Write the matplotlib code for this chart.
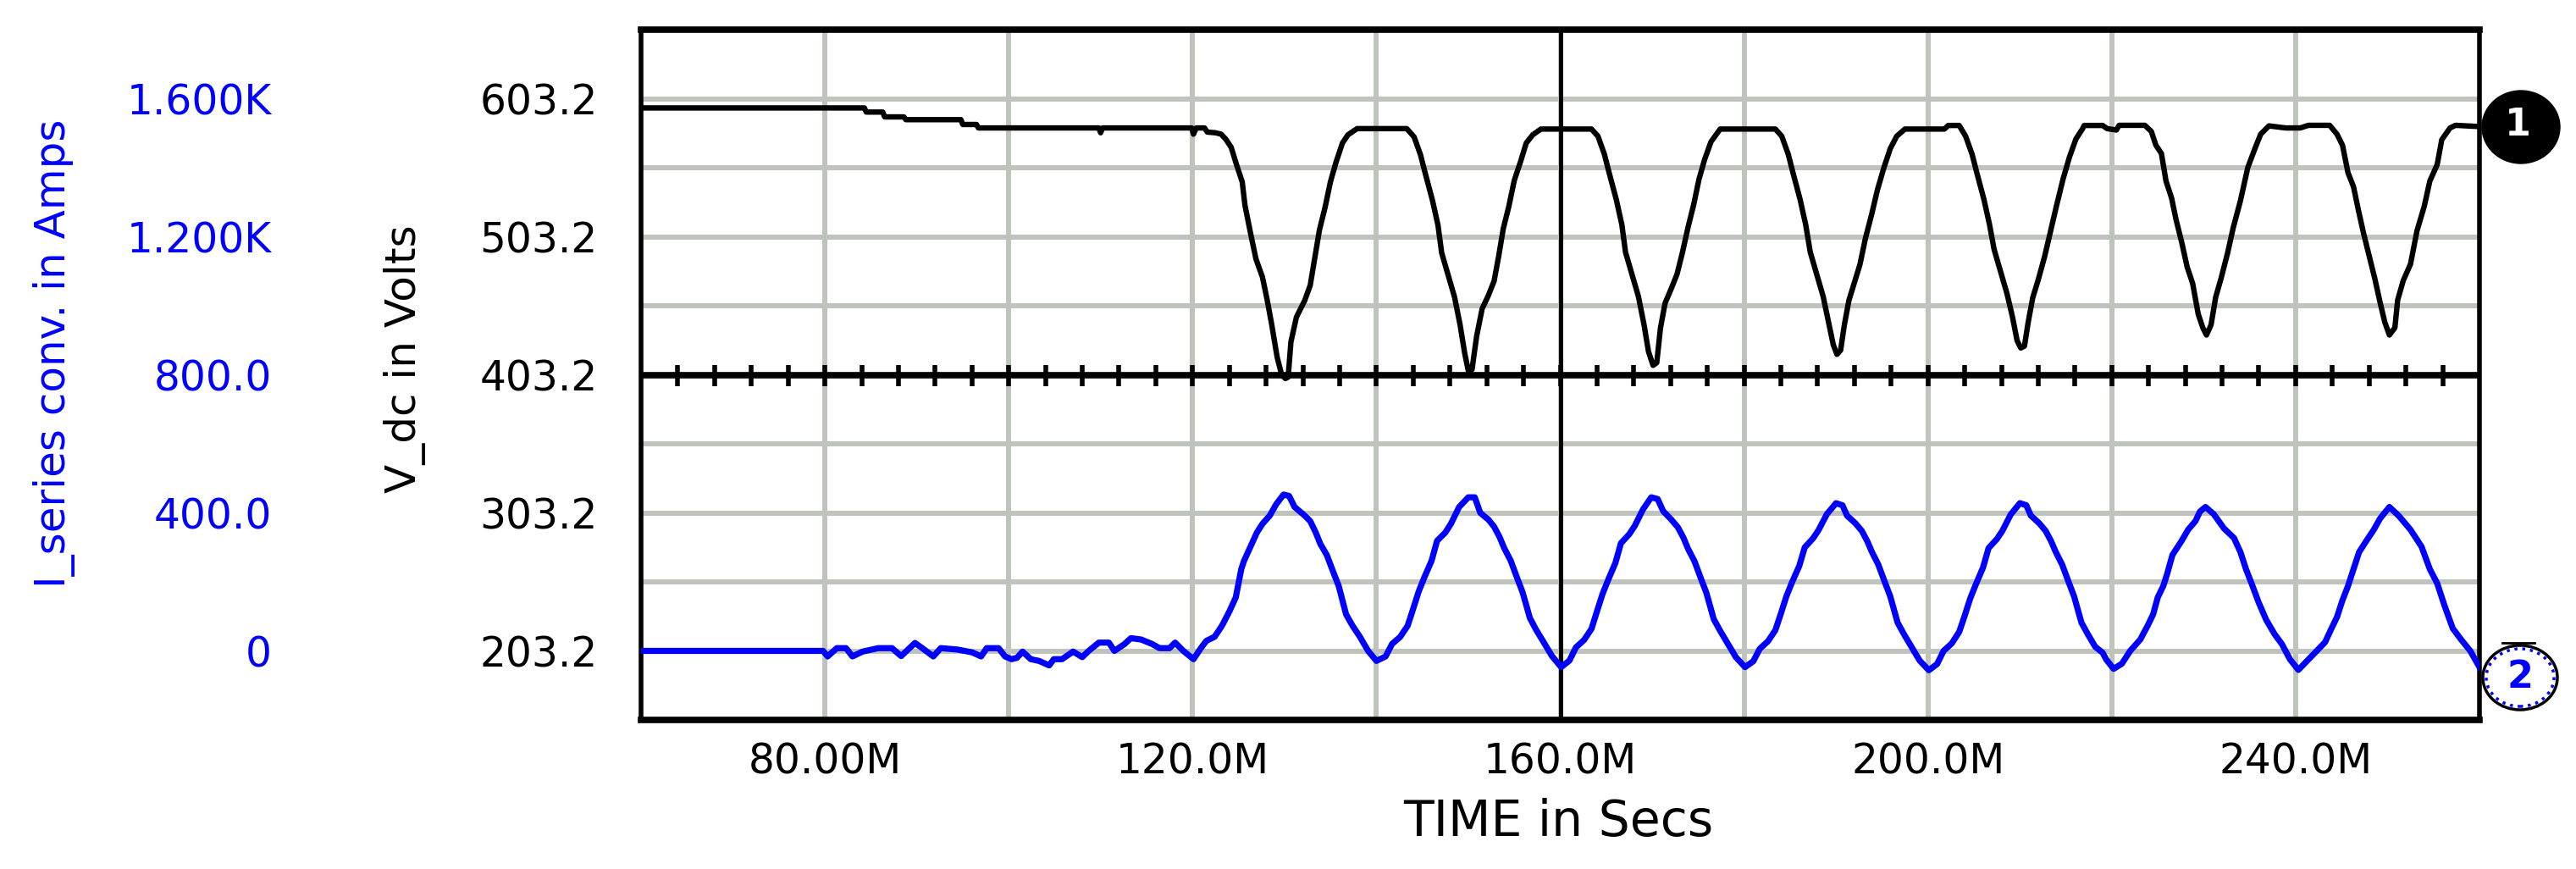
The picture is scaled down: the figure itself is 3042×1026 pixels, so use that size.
import matplotlib
matplotlib.use("Agg")
import matplotlib.pyplot as plt
import numpy as np
from matplotlib.patches import Ellipse
from matplotlib.lines import Line2D

# V_dc trace, (time in ms, volts)
vdc_pts = [
    (60.0, 596.5), (84.3, 596.5), (84.5, 593.5), (86.3, 593.5), (86.5, 590.0), (88.6, 590.0),
    (88.8, 588.0), (94.8, 588.0), (95.0, 584.5), (96.5, 584.5), (96.7, 582.0), (109.8, 582.0),
    (110.0, 578.5), (110.2, 582.0), (119.9, 582.0), (120.1, 577.5), (120.4, 582.0), (121.3, 582.0),
    (121.6, 579.0), (122.5, 578.5), (123.1, 577.5), (123.6, 574.0), (124.2, 568.0), (124.8, 555.0),
    (125.4, 543.0), (125.7, 526.0), (126.3, 506.0), (126.9, 487.0), (127.6, 474.0), (128.1, 458.0),
    (128.6, 440.0), (129.2, 416.0), (129.7, 403.0), (130.1, 400.5), (130.4, 401.5),
    (130.7, 427.0), (131.3, 445.0), (132.2, 457.0), (132.8, 468.0), (133.3, 488.0), (133.8, 508.0),
    (134.4, 524.0), (135.0, 543.0), (135.6, 557.0), (136.3, 571.0), (136.9, 577.0), (137.9, 581.5),
    (143.3, 581.5),
    (144.1, 575.5), (144.8, 562.5), (145.3, 549.5), (146.1, 529.5), (146.7, 511.5), (147.1, 491.5),
    (147.8, 475.5), (148.5, 459.5), (149.1, 439.5), (149.6, 419.0), (150.0, 406.0), (150.4, 407.0),
    (150.9, 431.0), (151.5, 451.0), (152.2, 461.0), (152.8, 471.0), (153.3, 489.0), (153.8, 509.0),
    (154.4, 525.0), (155.0, 544.0), (155.7, 558.0), (156.3, 571.0), (157.0, 577.0), (157.9, 581.2),
    (163.4, 581.2),
    (164.1, 576.0), (164.8, 563.0), (165.3, 550.0), (166.1, 530.0), (166.7, 512.0), (167.1, 492.0),
    (167.8, 476.0), (168.5, 460.0), (169.1, 440.0), (169.6, 420.0), (170.1, 410.0), (170.5, 412.0),
    (170.9, 437.0), (171.4, 455.0), (172.1, 466.0), (172.7, 476.0), (173.3, 492.0), (173.9, 510.0),
    (174.5, 526.0), (175.1, 545.0), (175.7, 559.0), (176.4, 572.0), (177.4, 581.2), (183.4, 581.2),
    (184.1, 576.0), (184.8, 563.0), (185.3, 550.0), (186.1, 530.0), (186.7, 512.0), (187.2, 492.0),
    (187.9, 476.0), (188.6, 460.0), (189.2, 441.0), (189.7, 425.0), (190.1, 418.0), (190.5, 421.0),
    (190.9, 439.0), (191.4, 457.0), (192.0, 470.0), (192.6, 483.0), (193.2, 502.0), (193.9, 520.0),
    (194.5, 537.0), (195.2, 553.0), (195.9, 567.0), (196.6, 576.0), (197.5, 581.2), (201.8, 581.2),
    (202.2, 583.8), (203.4, 583.8),
    (204.1, 576.0), (204.8, 563.0), (205.3, 550.0), (206.1, 530.0), (206.7, 512.0), (207.2, 494.0),
    (207.9, 478.0), (208.6, 462.0), (209.2, 445.0), (209.7, 428.0), (210.1, 422.6), (210.5, 424.0),
    (210.9, 441.0), (211.4, 459.0), (212.0, 472.0), (212.7, 489.0), (213.3, 506.0), (214.0, 526.0),
    (214.7, 545.0), (215.4, 561.0), (216.1, 574.0), (216.8, 581.2), (217.0, 583.8), (219.0, 583.8),
    (219.5, 581.5), (220.5, 580.5), (220.8, 583.9), (223.6, 583.9),
    (224.3, 579.5), (224.8, 569.5), (225.4, 563.5), (225.9, 543.5), (226.5, 531.4), (227.0, 515.4),
    (227.6, 499.4), (228.2, 481.3), (228.8, 469.3), (229.4, 447.3), (229.9, 437.3), (230.3, 432.0),
    (230.8, 439.3), (231.3, 459.3), (231.9, 473.3), (232.6, 491.4), (233.2, 509.4), (234.0, 529.4),
    (234.8, 553.4), (235.6, 567.5), (236.2, 577.5), (237.1, 583.5), (238.9, 582.0), (240.5, 582.0),
    (241.4, 583.9), (243.7, 583.9),
    (244.5, 577.5), (245.1, 569.5), (245.7, 549.5), (246.3, 539.4), (246.8, 523.4), (247.4, 505.4),
    (248.0, 489.4), (248.6, 473.3), (249.2, 455.3), (249.7, 441.3), (250.2, 432.0),
    (250.8, 437.3), (251.1, 457.3), (251.7, 471.3), (252.5, 483.4), (253.2, 507.4), (254.0, 525.4),
    (254.6, 543.5), (255.4, 555.5), (255.9, 573.5), (256.8, 582.0), (257.4, 583.9), (260.0, 583.0),
]

# I_series conv. trace, (time in ms, amps)
iser_pts = [
    (60.0, 0), (79.8, 0), (80.3, -16), (81.3, 8), (82.3, 8), (83.0, -16), (84.1, -2), (85.8, 8),
    (87.3, 8), (88.3, -15), (89.8, 23), (90.6, 8), (91.8, -16), (92.6, 8), (94.4, 4), (96.0, -4),
    (97.0, -16), (97.6, 8), (98.9, 8), (99.6, -16),
    (100.3, -24), (100.9, -20), (101.5, -2), (102.4, -24), (103.3, -29), (104.4, -42), (104.9, -24),
    (105.8, -24), (107.0, -2), (108.0, -18), (108.7, 0), (109.8, 24), (110.9, 24), (111.5, 0),
    (112.6, 20), (113.3, 37), (114.4, 33), (115.6, 20), (116.4, 8), (117.5, 8), (118.1, 24), (119.0, 0),
    (120.1, -24), (120.9, 8), (121.5, 29), (122.4, 41), (123.2, 73), (124.0, 114), (124.7, 155),
    (125.3, 237), (125.6, 261), (126.3, 302), (127.0, 343), (127.6, 368), (128.4, 392), (129.1, 425),
    (129.9, 453),
    (130.5, 449), (131.1, 417), (132.2, 392), (132.8, 376), (133.4, 343), (133.9, 310), (134.6, 278),
    (135.3, 229), (135.9, 188), (136.7, 106), (137.4, 73), (138.2, 41), (139.1, 0), (140.0, -29),
    (141.0, -16), (141.7, 20), (142.6, 41), (143.4, 73), (144.0, 122), (144.6, 172), (145.2, 212),
    (146.0, 261), (146.6, 319), (147.5, 343), (148.1, 368), (149.0, 417), (150.0, 445),
    (150.7, 445), (151.3, 400), (152.2, 380), (152.8, 360), (153.4, 330), (153.9, 298), (154.6, 262),
    (155.3, 212), (155.9, 170), (156.7, 95), (157.4, 60), (158.2, 25), (159.1, -15), (160.1, -47),
    (161.0, -28), (161.7, 10), (162.6, 32), (163.4, 64), (164.0, 115), (164.6, 165), (165.2, 205),
    (166.0, 255), (166.6, 312), (167.5, 338), (168.1, 362), (169.0, 410), (169.9, 445),
    (170.6, 440), (171.2, 405), (172.1, 380), (172.8, 358), (173.4, 328), (173.9, 296), (174.6, 260),
    (175.3, 210), (175.9, 168), (176.7, 92), (177.4, 58), (178.2, 22), (179.1, -18), (180.1, -47),
    (181.0, -30), (181.7, 6), (182.6, 28), (183.4, 60), (184.0, 108), (184.6, 158), (185.2, 198),
    (186.0, 246), (186.6, 300), (187.5, 326), (188.1, 350), (189.0, 396), (190.0, 428),
    (190.7, 422), (191.2, 392), (192.1, 370), (192.8, 348), (193.4, 318), (193.9, 287), (194.6, 250),
    (195.3, 200), (195.9, 158), (196.7, 82), (197.4, 48), (198.2, 12), (199.1, -28), (200.1, -56),
    (201.0, -38), (201.7, 0), (202.6, 22), (203.4, 55), (204.0, 102), (204.6, 152), (205.2, 192),
    (206.0, 242), (206.6, 298), (207.5, 324), (208.1, 348), (209.0, 395), (210.0, 428),
    (210.7, 422), (211.2, 392), (212.1, 370), (212.8, 348), (213.4, 318), (213.9, 287), (214.6, 250),
    (215.3, 200), (215.9, 158), (216.7, 82), (217.4, 48), (218.2, 12), (219.0, -5), (219.4, -25),
    (220.2, -52),
    (221.1, -37), (222.0, 0), (223.1, 33), (223.9, 73), (224.5, 106), (225.0, 155), (225.6, 188),
    (226.0, 221), (226.6, 278), (227.6, 319), (228.3, 351), (229.1, 376), (229.6, 404), (230.2, 417),
    (231.1, 396), (232.2, 355), (233.3, 327), (234.0, 286), (234.6, 237), (235.2, 196), (236.0, 139),
    (236.8, 90), (237.7, 49), (238.5, 20), (239.4, -25), (240.3, -55),
    (241.1, -33), (242.3, 0), (243.2, 25), (243.9, 65), (244.5, 98), (245.1, 147), (245.7, 188),
    (246.2, 229), (246.9, 286), (247.7, 319), (248.5, 351), (249.2, 384), (250.2, 417),
    (251.2, 392), (252.5, 351), (253.7, 302), (254.6, 237), (255.4, 196), (256.2, 131), (257.1, 65),
    (258.0, 33), (259.0, 0), (260.0, -47),
]

x_ticks = [80, 120, 160, 200, 240]
x_labels = ["80.00M", "120.0M", "160.0M", "200.0M", "240.0M"]
x_grid_minor = [100, 140, 180, 220]
v_ticks = [203.2, 303.2, 403.2, 503.2, 603.2]
v_labels = ["203.2", "303.2", "403.2", "503.2", "603.2"]
v_grid_minor = [253.2, 353.2, 453.2, 553.2]
i_ticks = [0, 400, 800, 1200, 1600]
i_labels = ["0", "400.0", "800.0", "1.200K", "1.600K"]

GRID = "#bec4bc"
BLUE = "#0000ff"
W, H = 3042, 1026

fig = plt.figure(figsize=(W / 100, H / 100), dpi=100)
ax = fig.add_axes([757 / W, 176 / H, 2171 / W, 815 / H])
ax.set_xlim(60, 260)
ax.set_ylim(153.2, 653.2)

ax.set_xticks(x_ticks)
ax.set_xticklabels(x_labels, fontsize=35)
ax.set_xticks(x_grid_minor, minor=True)
ax.set_yticks(v_ticks)
ax.set_yticklabels(v_labels, fontsize=35)
ax.set_yticks(v_grid_minor, minor=True)
ax.tick_params(which="both", length=0)
ax.tick_params(axis="x", pad=18)
ax.tick_params(axis="y", pad=37)
ax.grid(which="both", color=GRID, linewidth=4.3)
ax.set_axisbelow(True)

for side in ["top", "bottom"]:
    ax.spines[side].set_linewidth(5.5)
for side in ["left", "right"]:
    ax.spines[side].set_linewidth(4)

# cursor line and the divider between the two traces
ax.axvline(160, color="k", lw=3.5, zorder=2.2)
ax.axhline(403.2, color="k", lw=5.5, zorder=2.5)
mid_ticks = np.arange(64, 257, 4)
ax.plot(mid_ticks, np.full(len(mid_ticks), 403.2), ls="none", marker="|",
        ms=18, mew=4, color="k", zorder=2.6)

vt, vv = np.array(vdc_pts).T
ax.plot(vt, vv, color="k", lw=4.6, zorder=3)

ax2 = ax.twinx()
ax2.set_ylim(-200, 1800)
ax2.yaxis.tick_left()
ax2.set_yticks(i_ticks)
ax2.set_yticklabels(i_labels, fontsize=35, color=BLUE)
ax2.tick_params(axis="y", length=0, pad=314)
for s in ax2.spines.values():
    s.set_visible(False)
it, ia = np.array(iser_pts).T
ax2.plot(it, ia, color=BLUE, lw=5.2, zorder=3)

fig.text(1840 / W, 1 - 970 / H, "TIME in Secs", ha="center", va="center", fontsize=42)
fig.text(478 / W, 1 - 424 / H, "V_dc in Volts", rotation=90, ha="center", va="center", fontsize=36)
fig.text(64 / W, 1 - 417 / H, "I_series conv. in Amps", rotation=90, ha="center", va="center",
         fontsize=36, color=BLUE)

# trace markers on the right edge
fig.add_artist(Ellipse((2977 / W, 1 - 150 / H), 92 / W, 86 / H, transform=fig.transFigure,
                       facecolor="k", edgecolor="k"))
fig.text(2973 / W, 1 - 147 / H, "1", color="white", fontsize=32, fontweight="bold",
         ha="center", va="center")
fig.add_artist(Ellipse((2976 / W, 1 - 800 / H), 88 / W, 76 / H, transform=fig.transFigure,
                       facecolor="white", edgecolor="k", lw=2.5))
fig.add_artist(Ellipse((2976 / W, 1 - 800 / H), 80 / W, 68 / H, transform=fig.transFigure,
                       facecolor="none", edgecolor=BLUE, lw=2.5, ls=":"))
fig.add_artist(Line2D([2955 / W, 2993 / W], [1 - 759 / H, 1 - 759 / H], color="k", lw=2,
                      transform=fig.transFigure))
fig.text(2976 / W, 1 - 799 / H, "2", color=BLUE, fontsize=32, fontweight="bold",
         ha="center", va="center")

fig.savefig("out.png", dpi=100)
